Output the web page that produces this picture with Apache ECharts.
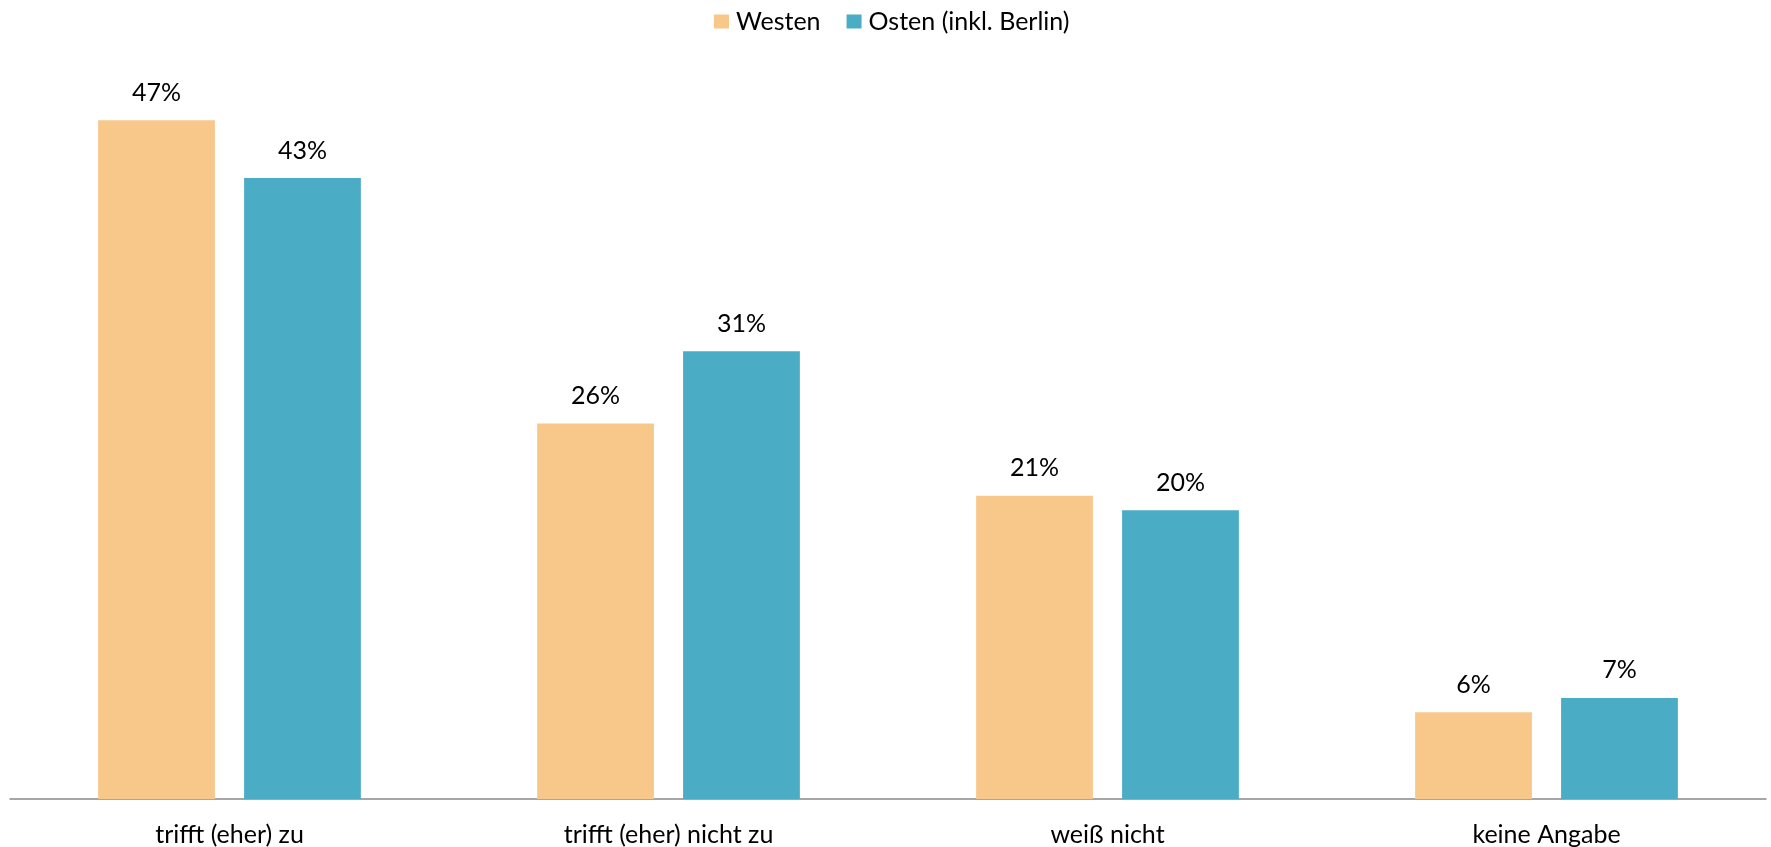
<!DOCTYPE html>
<html>
<head>
<meta charset="utf-8">
<script src="https://cdn.jsdelivr.net/npm/echarts@6/dist/echarts.min.js"></script>
<style>
  html, body { margin: 0; padding: 0; background: #ffffff; }
  #chart { width: 1771px; height: 847px; }
</style>
</head>
<body>
<div id="chart"></div>
<script>
// Survey answers, West vs. East Germany (percent)
const categories = ['trifft (eher) zu', 'trifft (eher) nicht zu', 'weiß nicht', 'keine Angabe'];
const seriesNames = ['Westen', 'Osten (inkl. Berlin)'];
const westen = [47, 26, 21, 6];
const osten = [43, 31, 20, 7];

const FONT = 'Lato, "Open Sans", sans-serif';
const colors = ['#F8C78A', '#4BACC6'];

const labelStyle = {
  show: true,
  position: 'top',
  distance: 15,
  color: '#000000',
  fontFamily: FONT,
  fontSize: 25,
  formatter: p => p.value + '%'
};

const chart = echarts.init(document.getElementById('chart'), null, { renderer: 'canvas' });
chart.setOption({
  animation: false,
  backgroundColor: '#ffffff',
  color: colors,
  legend: {
    top: 4,
    left: 709,
    itemWidth: 15,
    itemHeight: 14,
    itemGap: 26,
    icon: 'rect',
    textStyle: { fontFamily: FONT, fontSize: 25, color: '#000000', padding: [0, 0, 0, 2] },
    data: seriesNames
  },
  grid: { left: 10, right: 5, top: 77, bottom: 47, containLabel: false },
  xAxis: {
    type: 'category',
    data: categories,
    axisLine: { lineStyle: { color: '#898989', width: 1.5 } },
    axisTick: { show: false },
    axisLabel: { margin: 23, color: '#000000', fontFamily: FONT, fontSize: 25, interval: 0 }
  },
  yAxis: {
    type: 'value',
    min: 0,
    max: 50,
    show: false,
    splitLine: { show: false }
  },
  series: [
    {
      name: seriesNames[0],
      type: 'bar',
      data: westen,
      barWidth: '26.6%',
      barGap: '25%',
      itemStyle: { color: colors[0] },
      label: labelStyle
    },
    {
      name: seriesNames[1],
      type: 'bar',
      data: osten,
      barWidth: '26.6%',
      barGap: '25%',
      itemStyle: { color: colors[1] },
      label: labelStyle
    }
  ]
});
</script>
</body>
</html>
